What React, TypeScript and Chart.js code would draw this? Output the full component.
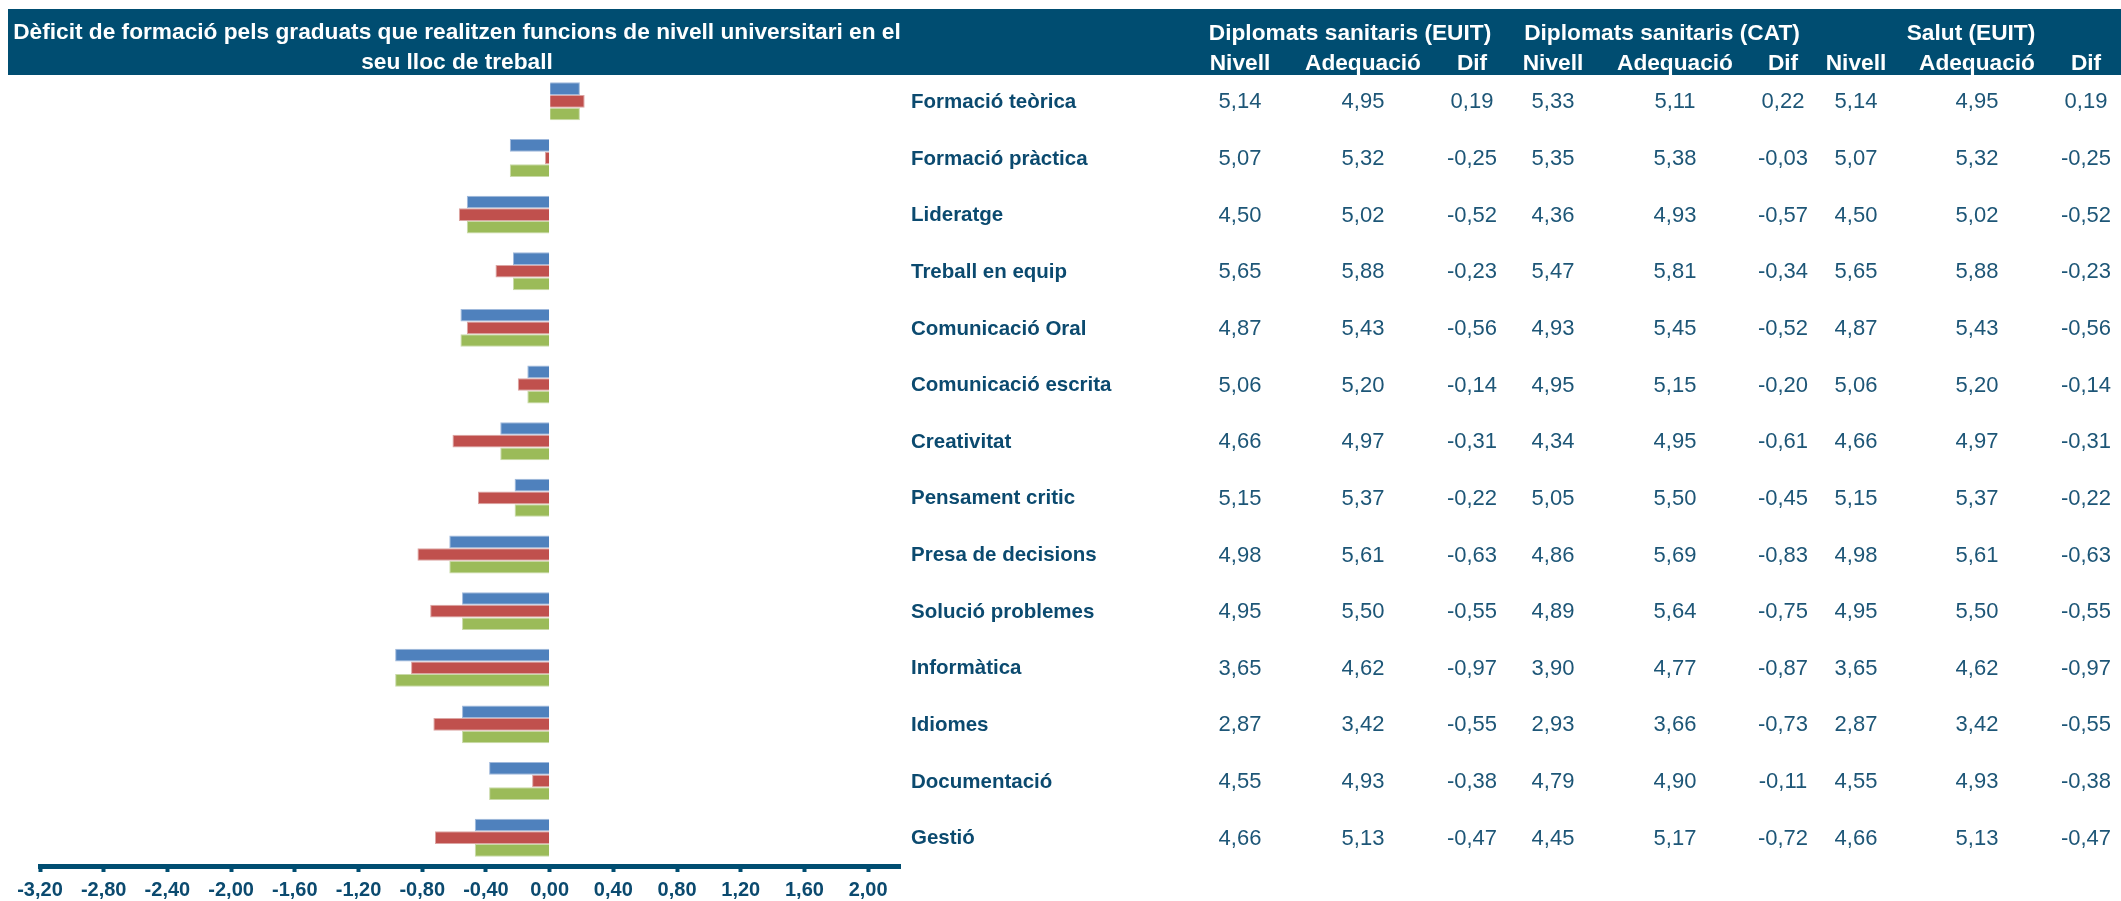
import React, { useEffect, useRef } from 'react';
import { Chart, registerables } from 'chart.js';

Chart.register(...registerables);

// ---------- data ----------
const categories = [
  'Formació teòrica',
  'Formació pràctica',
  'Lideratge',
  'Treball en equip',
  'Comunicació Oral',
  'Comunicació escrita',
  'Creativitat',
  'Pensament critic',
  'Presa de decisions',
  'Solució problemes',
  'Informàtica',
  'Idiomes',
  'Documentació',
  'Gestió',
];

const euitNivell = [5.14, 5.07, 4.5, 5.65, 4.87, 5.06, 4.66, 5.15, 4.98, 4.95, 3.65, 2.87, 4.55, 4.66];
const euitAdequacio = [4.95, 5.32, 5.02, 5.88, 5.43, 5.2, 4.97, 5.37, 5.61, 5.5, 4.62, 3.42, 4.93, 5.13];
const euitDif = [0.19, -0.25, -0.52, -0.23, -0.56, -0.14, -0.31, -0.22, -0.63, -0.55, -0.97, -0.55, -0.38, -0.47];

const catNivell = [5.33, 5.35, 4.36, 5.47, 4.93, 4.95, 4.34, 5.05, 4.86, 4.89, 3.9, 2.93, 4.79, 4.45];
const catAdequacio = [5.11, 5.38, 4.93, 5.81, 5.45, 5.15, 4.95, 5.5, 5.69, 5.64, 4.77, 3.66, 4.9, 5.17];
const catDif = [0.22, -0.03, -0.57, -0.34, -0.52, -0.2, -0.61, -0.45, -0.83, -0.75, -0.87, -0.73, -0.11, -0.72];

const salutNivell = [5.14, 5.07, 4.5, 5.65, 4.87, 5.06, 4.66, 5.15, 4.98, 4.95, 3.65, 2.87, 4.55, 4.66];
const salutAdequacio = [4.95, 5.32, 5.02, 5.88, 5.43, 5.2, 4.97, 5.37, 5.61, 5.5, 4.62, 3.42, 4.93, 5.13];
const salutDif = [0.19, -0.25, -0.52, -0.23, -0.56, -0.14, -0.31, -0.22, -0.63, -0.55, -0.97, -0.55, -0.38, -0.47];

const groupTitles = ['Diplomats sanitaris (EUIT)', 'Diplomats sanitaris (CAT)', 'Salut (EUIT)'];
const columnTitles = ['Nivell', 'Adequació', 'Dif'];
const titleLines = [
  'Dèficit de formació pels graduats que realitzen funcions de nivell universitari en el',
  'seu lloc de treball',
];

const xTickValues = [-3.2, -2.8, -2.4, -2.0, -1.6, -1.2, -0.8, -0.4, 0, 0.4, 0.8, 1.2, 1.6, 2.0];
const xMin = -3.2;
const xMax = 2.2;

// ---------- styles / layout ----------
const W = 2121;
const H = 901;
const FONT = '"Liberation Sans", Arial, sans-serif';
const BAND = '#004d71';
const LABEL_COLOR = '#0b4a6f';
const NUMBER_COLOR = '#1d5677';
const seriesColors = ['#4f81bd', '#c0504d', '#9bbb59'];
const seriesBorders = ['#9fb9dc', '#dca5a3', '#c9daa8'];
const plotLeft = 40;
const plotTop = 73;
const plotRight = 900;
const xAxisHeight = 35;
const colCenters = [1240, 1363, 1472, 1553, 1675, 1783, 1856, 1977, 2086];
const groupCenters = [1350, 1662, 1971];

const fmt = (v: number) => v.toFixed(2).replace('.', ',');

const tableColumns = [
  euitNivell, euitAdequacio, euitDif,
  catNivell, catAdequacio, catDif,
  salutNivell, salutAdequacio, salutDif,
];

const tablePlugin = {
  id: 'tableValues',
  afterDraw(chart: any) {
    const ctx = chart.ctx;
    const yScale = chart.scales.y;
    ctx.save();
    ctx.font = `22px ${FONT}`;
    ctx.fillStyle = NUMBER_COLOR;
    ctx.textAlign = 'center';
    ctx.textBaseline = 'middle';
    categories.forEach((_, i) => {
      const y = yScale.getPixelForValue(i) + 1;
      tableColumns.forEach((col, j) => {
        ctx.fillText(fmt(col[i]), colCenters[j], y);
      });
    });
    ctx.restore();
  },
};

export default function App() {
  const canvasRef = useRef<HTMLCanvasElement | null>(null);

  useEffect(() => {
    if (!canvasRef.current) return;
    const chart = new Chart(canvasRef.current, {
      type: 'bar',
      data: {
        labels: categories,
        datasets: [
          { label: groupTitles[0], data: euitDif, backgroundColor: seriesColors[0], borderColor: seriesBorders[0] },
          { label: groupTitles[1], data: catDif, backgroundColor: seriesColors[1], borderColor: seriesBorders[1] },
          { label: groupTitles[2], data: salutDif, backgroundColor: seriesColors[2], borderColor: seriesBorders[2] },
        ],
      },
      options: {
        indexAxis: 'y',
        responsive: false,
        animation: false,
        events: [],
        layout: { padding: { left: plotLeft, top: plotTop, right: 0, bottom: 0 } },
        datasets: {
          bar: {
            categoryPercentage: 0.67,
            barPercentage: 1.0,
            borderWidth: 1,
          },
        },
        plugins: { legend: { display: false }, tooltip: { enabled: false }, title: { display: false } },
        scales: {
          x: {
            type: 'linear',
            min: xMin,
            max: xMax,
            afterBuildTicks: (scale: any) => {
              scale.ticks = xTickValues.map((v) => ({ value: v }));
            },
            afterFit: (scale: any) => {
              scale.height = xAxisHeight;
            },
            grid: {
              drawOnChartArea: false,
              drawTicks: true,
              tickLength: 6,
              tickWidth: 4,
              tickColor: BAND,
              color: BAND,
            },
            border: { display: true, color: BAND, width: 5 },
            ticks: {
              autoSkip: false,
              maxRotation: 0,
              padding: 6,
              color: LABEL_COLOR,
              font: { family: FONT, size: 20, weight: 'bold' },
              callback: (v: any) => fmt(Number(v)),
            },
          },
          y: {
            type: 'category',
            position: 'right',
            afterFit: (scale: any) => {
              scale.width = W - plotRight;
            },
            grid: { display: false, drawTicks: false },
            border: { display: false },
            ticks: {
              autoSkip: false,
              padding: 11,
              labelOffset: 1,
              color: LABEL_COLOR,
              font: { family: FONT, size: 20.5, weight: 'bold' },
            },
          },
        },
      },
      plugins: [tablePlugin],
    } as any);
    return () => chart.destroy();
  }, []);

  const bandLeft = 8;
  const bandTop = 9;

  return (
    <div style={{ position: 'absolute', left: 0, top: 0, width: W, height: H, overflow: 'hidden', background: '#fff' }}>
      <canvas ref={canvasRef} width={W} height={H} style={{ position: 'absolute', left: 0, top: 0, width: W, height: H }} />
      <div
        style={{
          position: 'absolute',
          left: bandLeft,
          top: bandTop,
          width: W - bandLeft,
          height: 66,
          background: BAND,
          color: '#fff',
          fontFamily: FONT,
          fontWeight: 'bold',
          fontSize: 22.7,
          lineHeight: '30px',
        }}
      >
        <div style={{ position: 'absolute', left: 0, top: 7, width: 898, textAlign: 'center', whiteSpace: 'nowrap' }}>
          {titleLines.map((t, i) => (
            <div key={i}>{t}</div>
          ))}
        </div>
        {groupTitles.map((g, i) => (
          <div
            key={g}
            style={{ position: 'absolute', left: groupCenters[i] - bandLeft, top: 8, transform: 'translateX(-50%)', whiteSpace: 'nowrap' }}
          >
            {g}
          </div>
        ))}
        {colCenters.map((cx, j) => (
          <div
            key={j}
            style={{ position: 'absolute', left: cx - bandLeft, top: 38, transform: 'translateX(-50%)', whiteSpace: 'nowrap' }}
          >
            {columnTitles[j % 3]}
          </div>
        ))}
      </div>
    </div>
  );
}
